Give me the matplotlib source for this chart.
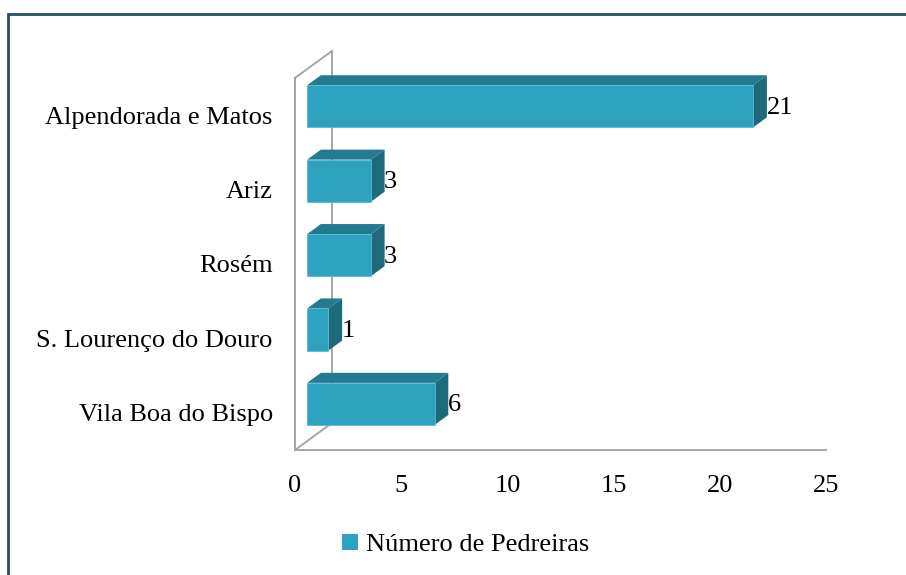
import matplotlib.pyplot as plt
from matplotlib.patches import Polygon, Patch, Rectangle

# data (top to bottom as shown in the chart)
freguesias = ["Alpendorada e Matos", "Ariz", "Rosém", "S. Lourenço do Douro", "Vila Boa do Bispo"]
pedreiras = [21, 3, 3, 1, 6]
x_ticks = [0, 5, 10, 15, 20, 25]
serie = "Número de Pedreiras"

plt.rcParams['font.family'] = ['Liberation Serif', 'DejaVu Serif']

c_front = "#2ea3bf"
c_top = "#247b8f"
c_side = "#1e6a7c"
c_wall = "#a6a6a6"

# depth of the pseudo-3D box, in data units
DX, DY = 1.74, 0.363
d0, d1 = 0.33, 0.70   # bar front / back depth (fraction of full depth)
h = 0.283             # half bar height
fs = 19


def off(x, y, d):
    return (x + d * DX, y + d * DY)


fig = plt.figure(figsize=(9.06, 5.75), dpi=100)
ax = fig.add_axes([295 / 906, 125 / 575, 531 / 906, 372 / 575])
ax.set_xlim(0, 25)
ax.set_ylim(0, 5)
for s in ax.spines.values():
    s.set_visible(False)

n = len(freguesias)
ypos = [n - 0.5 - i for i in range(n)]

# walls / floor outline
lw = 1.4
ax.plot([0, 0], [0, 5], color=c_wall, lw=lw, clip_on=False, zorder=1)
ax.plot([DX, DX], [DY, 5 + DY], color=c_wall, lw=lw, clip_on=False, zorder=1)
ax.plot([0, DX], [5, 5 + DY], color=c_wall, lw=lw, clip_on=False, zorder=1)
ax.plot([0, DX], [0, DY], color=c_wall, lw=lw, clip_on=False, zorder=1)
ax.plot([0, 25], [0, 0], color=c_wall, lw=lw, clip_on=False, zorder=1)

for y, v in zip(ypos, pedreiras):
    front = [off(0, y - h, d0), off(v, y - h, d0), off(v, y + h, d0), off(0, y + h, d0)]
    top = [off(0, y + h, d0), off(v, y + h, d0), off(v, y + h, d1), off(0, y + h, d1)]
    side = [off(v, y - h, d0), off(v, y - h, d1), off(v, y + h, d1), off(v, y + h, d0)]
    ax.add_patch(Polygon(top, closed=True, facecolor=c_top, edgecolor="none", zorder=3, clip_on=False))
    ax.add_patch(Polygon(side, closed=True, facecolor=c_side, edgecolor="none", zorder=3, clip_on=False))
    ax.add_patch(Polygon(front, closed=True, facecolor=c_front, edgecolor="#5bb9cf", lw=0.6, zorder=4, clip_on=False))
    lx, ly = off(v, y, d1)
    ax.text(lx - 0.02, y + d0 * DY - 0.02, str(v), ha="left", va="center", fontsize=fs, zorder=5)

ax.set_xticks(x_ticks)
ax.set_xticklabels([str(t) for t in x_ticks], fontsize=fs)
ax.set_yticks(ypos)
ax.set_yticklabels(freguesias, fontsize=fs)
ax.tick_params(axis="x", length=0, pad=18)
ax.tick_params(axis="y", length=0, pad=16)

fig.legend(handles=[Patch(facecolor=c_front, edgecolor="none")], labels=[serie],
           loc="center", bbox_to_anchor=(466 / 906, 1 - 545 / 575), frameon=False,
           fontsize=fs, handlelength=0.6, handleheight=0.6, handletextpad=0.3)

# outer chart frame
fig.patches.append(Rectangle((8 / 906, -0.05), 1.2, 1 - 14 / 575 + 0.05, transform=fig.transFigure,
                             fill=False, edgecolor="#22505f", lw=2.0))

fig.savefig("out.png", dpi=100)
